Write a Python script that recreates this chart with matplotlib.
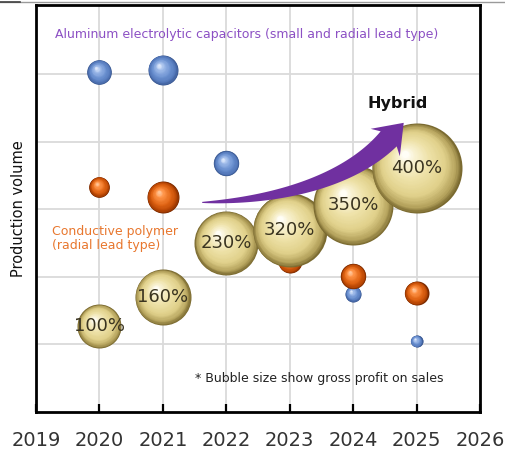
import numpy as np
import matplotlib
matplotlib.use('Agg')
import matplotlib.pyplot as plt
from matplotlib.transforms import ScaledTranslation
from matplotlib.colors import to_rgb
from matplotlib.patches import Polygon
from matplotlib.lines import Line2D

# ---------------- data ----------------
x_ticks = [2019, 2020, 2021, 2022, 2023, 2024, 2025, 2026]

alu_years = [2020, 2021, 2022, 2024, 2025]
alu_volume = [5.03, 5.06, 3.68, 1.75, 1.05]
alu_size = [12.3, 15.0, 12.7, 8.0, 6.0]

poly_years = [2020, 2021, 2023, 2024, 2025]
poly_volume = [3.33, 3.18, 2.23, 2.01, 1.76]
poly_size = [10.3, 16.0, 12.0, 12.7, 12.0]

hyb_years = [2020, 2021, 2022, 2023, 2024, 2025]
hyb_volume = [1.27, 1.70, 2.50, 2.69, 3.06, 3.61]
hyb_size = [22.0, 28.0, 32.0, 37.0, 40.0, 45.0]
hyb_labels = ['100%', '160%', '230%', '320%', '350%', '400%']

# ---------------- figure ----------------
DPI = 100
fig = plt.figure(figsize=(5.05, 4.5), dpi=DPI)
ax = fig.add_axes([36/505, 1-412/450, (480-36)/505, (412-5)/450])
ax.set_xlim(2019, 2026)
ax.set_ylim(0, 6.02)

ax.set_xticks(x_ticks)
ax.set_xticklabels([str(v) for v in x_ticks])
ax.set_yticks([1, 2, 3, 4, 5])
ax.tick_params(axis='y', length=0, labelleft=False)
ax.tick_params(axis='x', direction='in', length=6, width=1.6, color='black',
               labelsize=14, labelcolor='#333333', pad=14)
ax.grid(True, color='#dadada', lw=1.3, zorder=0)
ax.set_axisbelow(True)
for sp in ax.spines.values():
    sp.set_linewidth(2.0)
    sp.set_color('black')

ax.set_ylabel('Production volume', fontsize=10.5, color='#111111', labelpad=7)


def interp(stops, t):
    ts = [s[0] for s in stops]
    cs = [np.array(to_rgb(s[1])) for s in stops]
    for i in range(len(ts) - 1):
        if ts[i] <= t <= ts[i + 1]:
            u = (t - ts[i]) / (ts[i + 1] - ts[i])
            return tuple(cs[i] * (1 - u) + cs[i + 1] * u)
    return tuple(cs[-1])


def spheres(xs, ys, sizes, stops, z, n=32, hl=(-0.26, 0.30)):
    for x, y, r in zip(xs, ys, sizes):
        for k in range(n):
            t = k / (n - 1)
            f = 1 - 0.92 * t
            dx = hl[0] * r * t
            dy = hl[1] * r * t
            tr = ax.transData + ScaledTranslation(dx / DPI, dy / DPI, fig.dpi_scale_trans)
            ax.scatter([x], [y], s=(2 * r * f * 72 / DPI) ** 2, color=interp(stops, t),
                       transform=tr, linewidths=0, zorder=z)


blue_stops = [(0, '#3a5890'), (0.12, '#5276b8'), (0.4, '#6a90d0'), (0.8, '#9fbbea'), (1, '#dce7fb')]
orange_stops = [(0, '#7a2a00'), (0.12, '#b84604'), (0.4, '#e06414'), (0.8, '#ff9448'), (1, '#ffc597')]
gold_stops = [(0, '#7a6a30'), (0.1, '#b4a25c'), (0.3, '#e0d08a'), (0.6, '#eee2a8'),
              (0.9, '#faf4d8'), (1, '#fffef6')]

spheres(alu_years, alu_volume, alu_size, blue_stops, 3)
spheres(poly_years, poly_volume, poly_size, orange_stops, 4)
spheres(hyb_years, hyb_volume, hyb_size, gold_stops, 5, n=40)

for x, y, lab in zip(hyb_years, hyb_volume, hyb_labels):
    ax.text(x, y, lab, ha='center', va='center', fontsize=13, color='#3a3420', zorder=10)

# ---------------- arrow (annotation) ----------------
fig.canvas.draw()
P = np.array([[2021.62, 3.10], [2022.85, 3.13], [2023.95, 3.43], [2024.56, 4.04]])
Pd = ax.transData.transform(P)
ts = np.linspace(0, 1, 80)
B = ((1 - ts) ** 3)[:, None] * Pd[0] + (3 * (1 - ts) ** 2 * ts)[:, None] * Pd[1] \
    + (3 * (1 - ts) * ts ** 2)[:, None] * Pd[2] + (ts ** 3)[:, None] * Pd[3]
D = (3 * (1 - ts) ** 2)[:, None] * (Pd[1] - Pd[0]) + (6 * (1 - ts) * ts)[:, None] * (Pd[2] - Pd[1]) \
    + (3 * ts ** 2)[:, None] * (Pd[3] - Pd[2])
D = D / np.linalg.norm(D, axis=1)[:, None]
N = np.stack([-D[:, 1], D[:, 0]], axis=1)
w = 1.0 + 21.0 * ts ** 0.85
left = B + N * (w / 2)[:, None]
right = B - N * (w / 2)[:, None]
d_end = D[-1]
n_end = N[-1]
tip = Pd[3] + d_end * 22
hw = 20
c1 = Pd[3] + n_end * hw - d_end * 5
c2 = Pd[3] - n_end * hw - d_end * 5
poly_disp = np.vstack([left, c1, tip, c2, right[::-1]])
poly_data = ax.transData.inverted().transform(poly_disp)
ax.add_patch(Polygon(poly_data, closed=True, facecolor='#7030a0', edgecolor='none', zorder=8))

# ---------------- texts ----------------
ax.text(2019.30, 5.58, 'Aluminum electrolytic capacitors (small and radial lead type)',
        fontsize=9, color='#8c50c4', ha='left', va='center', zorder=10)
ax.text(2024.71, 4.57, 'Hybrid', fontsize=11.5, fontweight='bold', color='#111111',
        ha='center', va='center', zorder=10)
ax.text(2019.25, 2.57, 'Conductive polymer\n(radial lead type)', fontsize=9,
        color='#e8772e', ha='left', va='center', linespacing=1.1, zorder=10)
ax.text(2021.51, 0.495, '* Bubble size show gross profit on sales', fontsize=9,
        color='#222222', ha='left', va='center', zorder=10)

fig.add_artist(Line2D([0, 1], [1 - 2/450, 1 - 2/450], color='#9a9a9a', lw=1.0))
fig.add_artist(Line2D([0, 20/505], [1 - 2/450, 1 - 2/450], color='#404040', lw=1.2))

fig.savefig('out.png', dpi=DPI)
